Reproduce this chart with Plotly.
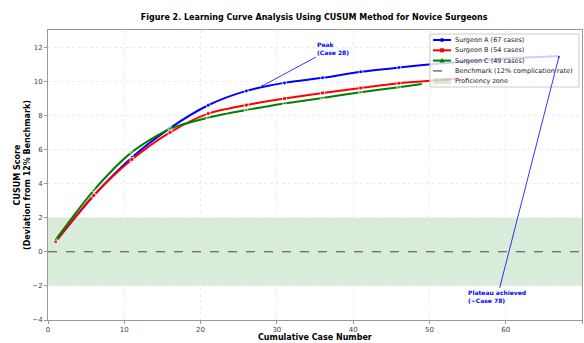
import plotly.graph_objects as go

# ---- data ----
cases_A = [1, 6, 11, 16, 21, 26, 31, 36, 41, 46, 51, 56, 61, 66, 67]
cusum_A = [0.6, 3.3, 5.53, 7.25, 8.59, 9.43, 9.9, 10.2, 10.55, 10.8, 11.02, 11.2, 11.35, 11.45, 11.47]
cases_B = [1, 6, 11, 16, 21, 26, 31, 36, 41, 46, 51, 54]
cusum_B = [0.6, 3.31, 5.41, 7.0, 8.1, 8.6, 8.98, 9.31, 9.6, 9.88, 10.05, 10.15]
cases_C = [1, 6, 11, 16, 21, 26, 31, 36, 41, 46, 49]
cusum_C = [0.7, 3.6, 5.84, 7.2, 7.86, 8.31, 8.69, 9.02, 9.35, 9.65, 9.84]

names = ["Surgeon A (67 cases)", "Surgeon B (54 cases)", "Surgeon C (49 cases)"]
colors = ["#0000ff", "#ff0000", "#008000"]
symbols = ["circle", "square", "triangle-up"]
bench_name = "Benchmark (12% complication rate)"
zone_name = "Proficiency zone"

x_range = [0, 70]
y_range = [-4, 13]
benchmark = 0
zone = [-2, 2]
x_ticks = [0, 10, 20, 30, 40, 50, 60, 70]
y_ticks = [-4, -2, 0, 2, 4, 6, 8, 10, 12]

peak_case, peak_val = 28, 9.7
peak_text_pos = (37.3, 11.94)
plateau_text_pos = (58.9, -2.65)

zone_color = "rgba(0,128,0,0.15)"
bench_color = "rgba(0,0,0,0.7)"

fig = go.Figure()

# proficiency zone
fig.add_hrect(y0=zone[0], y1=zone[1], fillcolor=zone_color, line_width=0, layer="below")

# benchmark
fig.add_trace(go.Scatter(
    x=x_range, y=[benchmark, benchmark], mode="lines",
    line=dict(color=bench_color, width=1.2, dash="dash"),
    name=bench_name, showlegend=False))

for i, (xs, ys) in enumerate([(cases_A, cusum_A), (cases_B, cusum_B), (cases_C, cusum_C)]):
    sizes = [4 if (c - 1) % 5 == 0 else 0 for c in xs]
    fig.add_trace(go.Scatter(
        x=xs, y=ys, mode="lines+markers", name=names[i], showlegend=False,
        line=dict(color=colors[i], width=2, shape="spline", smoothing=0.8),
        marker=dict(color=colors[i], symbol=symbols[i], size=sizes)))

font_family = "DejaVu Sans, sans-serif"

# plot area in pixels: x 48..582, y 30..320
L, R, T, B = 48, 582, 30, 320
def px(x):
    return (x - L) / (R - L)
def py(y):
    return (B - y) / (B - T)

fig.update_layout(
    width=584, height=343,
    margin=dict(l=L, r=584 - R, t=T, b=343 - B),
    paper_bgcolor="white", plot_bgcolor="white",
    font=dict(family=font_family, size=7, color="#333"),
    title=dict(text="<b>Figure 2. Learning Curve Analysis Using CUSUM Method for Novice Surgeons</b>",
               x=0.538, xanchor="center", y=0.95, yanchor="middle",
               font=dict(size=8, color="black")),
    showlegend=False,
)

axis_common = dict(showgrid=True, gridcolor="#ececec", griddash="dot", gridwidth=0.8,
                   showline=True, linecolor="#999", linewidth=1, mirror=True,
                   ticks="outside", ticklen=3, tickcolor="#999", zeroline=False,
                   automargin=False, tickfont=dict(size=7, color="#444"))
fig.update_xaxes(range=x_range, tickvals=x_ticks, ticktext=[str(t) for t in x_ticks], **axis_common)
fig.update_yaxes(range=y_range, tickvals=y_ticks,
                 ticktext=[str(t).replace("-", "\u2212") for t in y_ticks], **axis_common)

# axis titles
fig.add_annotation(text="<b>Cumulative Case Number</b>", xref="paper", yref="paper",
                   x=0.5, y=py(337), xanchor="center", yanchor="middle", showarrow=False,
                   font=dict(size=8, color="black"))
fig.add_annotation(text="<b>CUSUM Score<br>(Deviation from 12% Benchmark)</b>", xref="paper", yref="paper",
                   x=px(22), y=0.5, xanchor="center", yanchor="middle", showarrow=False,
                   textangle=-90, font=dict(size=8, color="black"))

# peak annotation
fig.add_annotation(text="<b>Peak<br>(Case 28)</b>", x=peak_case, y=peak_val,
                   ax=peak_text_pos[0], ay=peak_text_pos[1], axref="x", ayref="y",
                   xref="x", yref="y", align="left", showarrow=True,
                   arrowhead=1, arrowsize=0.6, arrowwidth=0.8, arrowcolor="#0000ff",
                   font=dict(size=6, color="#0000ff"))
# plateau annotation
fig.add_annotation(text="<b>Plateau achieved<br>(~Case 78)</b>", x=cases_A[-1], y=cusum_A[-1],
                   ax=plateau_text_pos[0], ay=plateau_text_pos[1], axref="x", ayref="y",
                   xref="x", yref="y", align="left", showarrow=True,
                   arrowhead=1, arrowsize=0.6, arrowwidth=0.8, arrowcolor="#0000ff",
                   font=dict(size=6, color="#0000ff"))

# ---- custom compact legend (matplotlib-like) ----
box = dict(x0=430, x1=579, y0=34, y1=87)
fig.add_shape(type="rect", xref="paper", yref="paper",
              x0=px(box["x0"]), x1=px(box["x1"]), y0=py(box["y1"]), y1=py(box["y0"]),
              fillcolor="rgba(255,255,255,0.8)", line=dict(color="#cccccc", width=1), layer="above")
rows = [40, 50.3, 60.6, 70.9, 81.2]
h0, h1, hc, tx = 433, 451, 442, 453
labels = names + [bench_name, zone_name]
for i in range(3):
    y = rows[i]
    fig.add_shape(type="line", xref="paper", yref="paper", x0=px(h0), x1=px(h1), y0=py(y), y1=py(y),
                  line=dict(color=colors[i], width=2), layer="above")
r = 2
fig.add_shape(type="circle", xref="paper", yref="paper", x0=px(hc - r), x1=px(hc + r),
              y0=py(rows[0] + r), y1=py(rows[0] - r), fillcolor=colors[0], line_width=0, layer="above")
fig.add_shape(type="rect", xref="paper", yref="paper", x0=px(hc - r), x1=px(hc + r),
              y0=py(rows[1] + r), y1=py(rows[1] - r), fillcolor=colors[1], line_width=0, layer="above")
tri = "M {} {} L {} {} L {} {} Z".format(px(hc - 2.5), py(rows[2] + 2), px(hc + 2.5), py(rows[2] + 2),
                                         px(hc), py(rows[2] - 2.5))
fig.add_shape(type="path", xref="paper", yref="paper", path=tri, fillcolor=colors[2], line_width=0, layer="above")
fig.add_shape(type="line", xref="paper", yref="paper", x0=px(h0), x1=px(h1), y0=py(rows[3]), y1=py(rows[3]),
              line=dict(color=bench_color, width=1.2, dash="dash"), layer="above")
fig.add_shape(type="rect", xref="paper", yref="paper", x0=px(h0), x1=px(h1),
              y0=py(rows[4] + 3), y1=py(rows[4] - 3), fillcolor=zone_color, line_width=0, layer="above")
for y, lab in zip(rows, labels):
    fig.add_annotation(text=lab, xref="paper", yref="paper", x=px(tx), y=py(y),
                       xanchor="left", yanchor="middle", showarrow=False,
                       font=dict(size=6.5, color="#222"))

fig.write_html("out.html", config={"displayModeBar": False},
               post_script="document.body.style.margin='0';")
